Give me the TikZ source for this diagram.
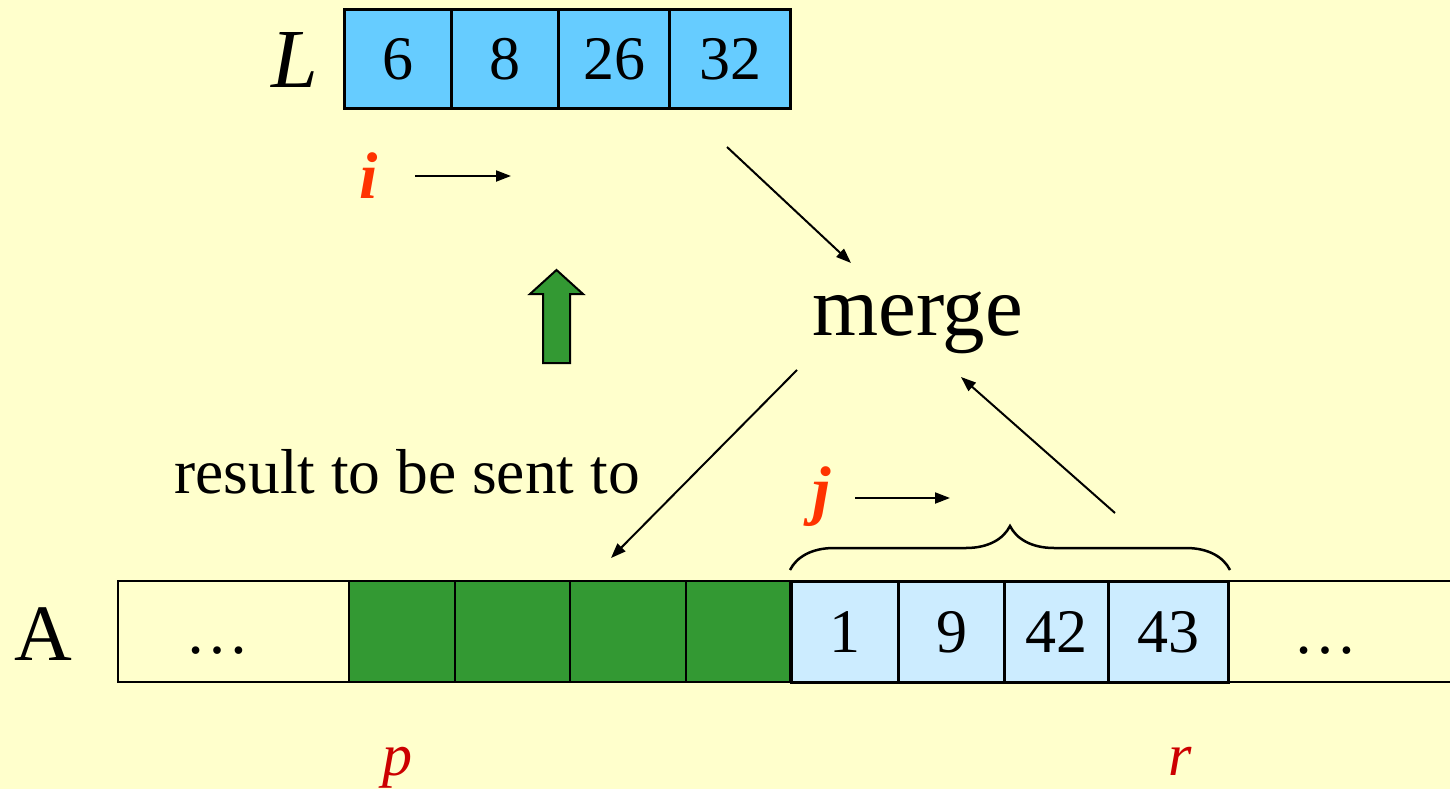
\documentclass[tikz,border=0pt]{standalone}
\usepackage{fontspec}
\setmainfont{Liberation Serif}
\usetikzlibrary{arrows.meta,decorations.pathreplacing}

\definecolor{paper}{HTML}{FFFFCC}
\definecolor{lblue}{HTML}{66CCFF}
\definecolor{ablue}{HTML}{CCECFF}
\definecolor{done}{HTML}{339933}
\definecolor{idx}{HTML}{FF3300}
\definecolor{bound}{HTML}{CC0000}

\begin{document}
\begin{tikzpicture}[x=1pt,y=-1pt,
  cellL/.style={draw, line width=3pt, fill=lblue, minimum height=99pt,
    inner sep=0pt, anchor=west, font=\fontsize{62}{62}\selectfont},
  cellA/.style={draw, line width=3pt, fill=ablue, minimum height=101pt,
    inner sep=0pt, anchor=west, font=\fontsize{62}{62}\selectfont},
  cellG/.style={draw, line width=2pt, fill=done, minimum height=101pt,
    inner sep=0pt, anchor=west},
  cellE/.style={draw, line width=2pt, fill=paper, minimum height=101pt,
    inner sep=0pt, anchor=west},
  dots/.style={anchor=base, inner sep=0pt, font=\fontsize{64}{64}\selectfont},
  conn/.style={line width=2pt, -{Triangle[length=15pt,width=11pt]}},
  big/.style={font=\fontsize{#1}{#1}\selectfont},
  idxlabel/.style={text=idx, font=\fontsize{66}{66}\selectfont\bfseries\itshape},
  boundlabel/.style={text=bound, font=\fontsize{60}{60}\selectfont\itshape}
]
\fill[paper] (0,0) rectangle (1450,789);
\useasboundingbox (0,0) rectangle (1450,789);

% array L
\node[anchor=base, font=\fontsize{84}{84}\selectfont\itshape] (Lname) at (295,88) {L};
\node[cellL, minimum width=107pt] (l1) at (343,59.5) {6};
\node[cellL, minimum width=107pt] (l2) at (450,59.5) {8};
\node[cellL, minimum width=111pt] (l3) at (557,59.5) {26};
\node[cellL, minimum width=121pt] (l4) at (668,59.5) {32};

% index i
\node[idxlabel, anchor=base] (ilab) at (369,198) {i};
\coordinate (ifrom) at (415,176);
\coordinate (ito) at (511,176);
\draw[conn] (ifrom) -- (ito);

% merge
\node[big=85, anchor=base west, inner sep=0pt] (merge) at (812,335) {merge};
\coordinate (lout) at (727,147);
\coordinate (min) at (851,263);
\draw[conn] (lout) -- (min);
\coordinate (mout) at (797,370);
\coordinate (ain) at (611,558);
\draw[conn] (mout) -- (ain);
\coordinate (rout) at (1115,513);
\coordinate (rin) at (961,377);
\draw[conn] (rout) -- (rin);

% upward block arrow
\draw[line width=2pt, fill=done, line join=miter]
  (543,363) -- (543,294) -- (530,294) -- (556.5,270) -- (583,294)
  -- (570,294) -- (570,363) -- cycle;

% caption
\node[big=63.5, anchor=base, inner sep=0pt] (caption) at (407,493) {result to be sent to};

% index j
\node[idxlabel, anchor=base] (jlab) at (822,512) {j};
\coordinate (jfrom) at (855,498);
\coordinate (jto) at (950,498);
\draw[conn] (jfrom) -- (jto);

% array A
\node[big=80, anchor=base, inner sep=0pt] (Aname) at (43,660) {A};
\node[cellE, minimum width=231pt] (a0) at (117,631.5) {};
\node[cellG, minimum width=106pt] (g1) at (348,631.5) {};
\node[cellG, minimum width=115pt] (g2) at (454,631.5) {};
\node[cellG, minimum width=116pt] (g3) at (569,631.5) {};
\node[cellG, minimum width=104pt] (g4) at (685,631.5) {};
\node[cellE, minimum width=228pt] (a9) at (1227,631.5) {};
\node[dots] (d0) at (217,653) {\ldots};
\node[dots] (d9) at (1325,653) {\ldots};
\node[cellA, minimum width=107pt] (b1) at (790,632) {1};
\node[cellA, minimum width=106pt] (b2) at (897,632) {9};
\node[cellA, minimum width=104pt] (b3) at (1003,632) {42};
\node[cellA, minimum width=120pt] (b4) at (1107,632) {43};

% brace over the right run
\draw[line width=2.5pt, decorate, decoration={brace, amplitude=44pt, aspect=0.5}]
  (b1.north west) ++(0,-10) coordinate (bl) (b4.north east) ++(0,-10) coordinate (br)
  (bl) -- (br);

% bounds
\node[boundlabel, anchor=base] (plab) at (397,775) {p};
\node[boundlabel, anchor=base] (rlab) at (1180,775) {r};
\end{tikzpicture}
\end{document}
